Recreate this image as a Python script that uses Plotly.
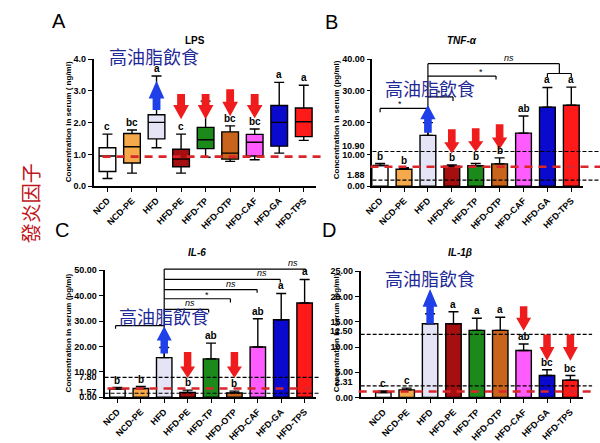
import plotly.graph_objects as go

W, H = 600, 443

cats = ["NCD", "NCD-PE", "HFD", "HFD-PE", "HFD-TP", "HFD-OTP", "HFD-CAF", "HFD-GA", "HFD-TPS"]
colors = ["#FFFFFF", "#F6A94A", "#E4E4F6", "#A50F0F", "#1B8A1B", "#C8641C", "#FF5CFF", "#0A0ACF", "#FF1A1A"]

# A: LPS (ng/ml) box statistics
lps_min = [0.24, 0.41, 1.21, 0.41, 0.91, 0.78, 0.83, 1.04, 1.44]
lps_q1 = [0.46, 0.73, 1.49, 0.61, 1.18, 0.85, 0.95, 1.26, 1.56]
lps_med = [0.95, 1.24, 2.01, 0.85, 1.46, 1.04, 1.38, 2.01, 2.03]
lps_q3 = [1.21, 1.66, 2.25, 1.16, 1.85, 1.71, 1.63, 2.54, 2.46]
lps_max = [1.64, 1.77, 3.47, 1.64, 2.68, 1.90, 1.80, 3.27, 3.18]
lps_letters = ["c", "bc", "a", "c", "", "bc", "bc", "a", "a"]

# B: TNF-alpha (pg/ml)
tnf_mean = [6.5, 5.3, 16.0, 6.3, 6.4, 7.0, 16.7, 24.9, 25.5]
tnf_err = [0.6, 0.5, 4.0, 0.4, 0.7, 1.9, 5.4, 6.2, 5.7]
tnf_letters = ["b", "b", "", "b", "b", "b", "ab", "a", "a"]

# C: IL-6 (pg/ml)
il6_mean = [3.2, 3.4, 15.6, 1.9, 15.1, 1.7, 19.8, 30.5, 37.1]
il6_err = [0.6, 0.8, 4.0, 0.9, 6.2, 0.7, 11.1, 10.4, 9.3]
il6_letters = ["b", "b", "", "b", "ab", "b", "ab", "a", "a"]

# D: IL-1beta (pg/ml)
il1_mean = [1.0, 1.5, 14.6, 14.6, 13.3, 13.3, 9.3, 4.35, 3.45]
il1_err = [0.3, 0.35, 2.0, 2.4, 2.4, 2.6, 1.3, 1.15, 0.9]
il1_letters = ["c", "c", "", "a", "a", "a", "ab", "bc", "bc"]

# reference lines
lps_red = 0.93
tnf_red, tnf_black = 6.1, [10.90, 1.88]
il6_red, il6_black = 3.4, [7.80, 1.57]
il1_red, il1_black = 1.2, [12.50, 2.31]

# ---------- layout helpers ----------
def px(x):
    return x / W

def py(y):
    return 1 - y / H

FONT = "Liberation Sans, Arial, sans-serif"
CJK = "Noto Sans CJK TC"

panels = {
    "A": dict(xa="x", ya="y", xd=(86, 311.7), yd=(187, 56), xr=(-0.56, 8.5), ymax=4,
              tv=[0, 1, 2, 3, 4], tt=["0.0", "1.0", "2.0", "3.0", "4.0"]),
    "B": dict(xa="x2", ya="y2", xd=(369, 583), yd=(187, 56), xr=(-0.32, 8.5), ymax=40,
              tv=[0, 10, 20, 30, 40], tt=["0.00", "10.00", "20.00", "30.00", "40.00"]),
    "C": dict(xa="x3", ya="y3", xd=(97, 312), yd=(405, 274), xr=(-0.55, 8.5), ymax=50,
              tv=[0, 10, 20, 30, 40, 50], tt=["0.00", "10.00", "20.00", "30.00", "40.00", "50.00"]),
    "D": dict(xa="x4", ya="y4", xd=(357, 583), yd=(405.3, 275), xr=(-0.97, 8.55), ymax=25,
              tv=[0, 5, 10, 15, 20, 25], tt=["0.00", "5.00", "10.00", "15.00", "20.00", "25.00"]),
}

fig = go.Figure()
idx = list(range(len(cats)))

# A boxes
pa = panels["A"]
for i in idx:
    fig.add_trace(go.Box(
        x=[i], q1=[lps_q1[i]], median=[lps_med[i]], q3=[lps_q3[i]],
        lowerfence=[lps_min[i]], upperfence=[lps_max[i]],
        width=0.68, whiskerwidth=0.6, fillcolor=colors[i],
        line=dict(color="black", width=1.4), boxpoints=False,
        xaxis=pa["xa"], yaxis=pa["ya"], showlegend=False, hoverinfo="skip"))

# bar panels
for key, mean, err in [("B", tnf_mean, tnf_err), ("C", il6_mean, il6_err), ("D", il1_mean, il1_err)]:
    p = panels[key]
    fig.add_trace(go.Bar(
        x=idx, y=mean, width=0.66, marker=dict(color=colors, line=dict(color="black", width=1.4)),
        error_y=dict(type="data", array=err, arrayminus=[0] * len(err), symmetric=False,
                     color="black", thickness=1.4, width=5),
        xaxis=p["xa"], yaxis=p["ya"], showlegend=False, hoverinfo="skip"))

layout = dict(width=W, height=H, margin=dict(l=0, r=0, t=0, b=0),
              paper_bgcolor="white", plot_bgcolor="white", boxmode="overlay",
              barmode="overlay", showlegend=False, font=dict(family=FONT, color="black"))

for key, p in panels.items():
    xn = "xaxis" + p["xa"][1:]
    yn = "yaxis" + p["ya"][1:]
    layout[xn] = dict(domain=[px(p["xd"][0]), px(p["xd"][1])], range=list(p["xr"]),
                      anchor=p["ya"], tickvals=idx, ticktext=cats, tickangle=-45,
                      showline=True, linecolor="black", linewidth=1.8, ticks="outside",
                      ticklen=4, tickwidth=1.4, tickcolor="black", showgrid=False, zeroline=False,
                      tickfont=dict(family=FONT, size=9, color="black", weight="bold"), fixedrange=True)
    layout[yn] = dict(domain=[py(p["yd"][0]), py(p["yd"][1])], range=[0, p["ymax"]],
                      anchor=p["xa"], tickvals=p["tv"], ticktext=p["tt"],
                      showline=True, linecolor="black", linewidth=1.8, ticks="outside",
                      ticklen=4, tickwidth=1.4, tickcolor="black", showgrid=False, zeroline=False,
                      tickfont=dict(family=FONT, size=9, color="black", weight="bold"), fixedrange=True)
fig.update_layout(**layout)

shapes = []
annos = []

# reference lines: (panel, value, x0px, x1px, kind)
ref_lines = [
    ("A", lps_red, 95, 320, "red"),
    ("B", tnf_red, 367, 600, "red"),
    ("B", tnf_black[0], 369, 600, "black"),
    ("B", tnf_black[1], 369, 600, "black"),
    ("C", il6_red, 100, 310, "red"),
    ("C", il6_black[0], 97, 315, "black"),
    ("C", il6_black[1], 97, 315, "black"),
    ("D", il1_red, 355, 595, "red"),
    ("D", il1_black[0], 357, 592, "black"),
    ("D", il1_black[1], 357, 592, "black"),
]
for key, v, x0, x1, kind in ref_lines:
    p = panels[key]
    if kind == "red":
        ln = dict(color="#D9262B", width=2.6, dash="8px,6px")
    else:
        ln = dict(color="black", width=1.1, dash="4px,2px")
    shapes.append(dict(type="line", xref="paper", yref=p["ya"], x0=px(x0), x1=px(x1), y0=v, y1=v,
                       line=ln, layer="above"))

# special tick labels
special = [("B", tnf_black[0], "10.90", 6), ("B", tnf_black[1], "1.88", 5),
           ("C", il6_black[0], "7.80", 0), ("C", il6_black[1], "1.57", 1),
           ("D", il1_black[0], "12.50", 3), ("D", il1_black[1], "2.31", 4)]
for key, v, txt, ys in special:
    p = panels[key]
    annos.append(dict(xref="paper", yref=p["ya"], x=px(p["xd"][0] - 6), y=v, text=txt,
                      xanchor="right", yanchor="middle", yshift=ys, showarrow=False,
                      font=dict(family=FONT, size=9, color="black", weight="bold")))

# significance letters
tops = {
    "A": lps_max,
    "B": [m + e for m, e in zip(tnf_mean, tnf_err)],
    "C": [m + e for m, e in zip(il6_mean, il6_err)],
    "D": [m + e for m, e in zip(il1_mean, il1_err)],
}
letters = {"A": lps_letters, "B": tnf_letters, "C": il6_letters, "D": il1_letters}
for key in panels:
    p = panels[key]
    for i in idx:
        if letters[key][i]:
            annos.append(dict(xref=p["xa"], yref=p["ya"], x=i, y=tops[key][i], text=letters[key][i],
                              xanchor="center", yanchor="bottom", yshift=0, showarrow=False,
                              font=dict(family=FONT, size=10, color="black", weight="bold")))

# comparison brackets (category index, value)
def seg(key, x0, v0, x1, v1):
    p = panels[key]
    shapes.append(dict(type="line", xref=p["xa"], yref=p["ya"] + " domain",
                       x0=x0, x1=x1, y0=v0 / p["ymax"], y1=v1 / p["ymax"],
                       line=dict(color="black", width=1.2), layer="above"))

def label(key, x, v, txt, italic=True, size=9):
    p = panels[key]
    annos.append(dict(xref=p["xa"], yref=p["ya"] + " domain", x=x, y=v / p["ymax"], text=txt,
                      xanchor="center", yanchor="bottom", showarrow=False, yshift=-1,
                      font=dict(family=FONT, size=size, color="black", style="italic" if italic else "normal")))

# B brackets
seg("B", 2, 38.6, 2, 16.0)
seg("B", 2, 38.6, 7.5, 38.6); seg("B", 7.5, 38.6, 7.5, 35.5)
seg("B", 7, 35.5, 8, 35.5); seg("B", 7, 35.5, 7, 34.4); seg("B", 8, 35.5, 8, 34.4)
label("B", 5.4, 38.6, "ns")
seg("B", 2, 34.7, 4.85, 34.7); seg("B", 4.85, 34.7, 4.85, 33.6)
label("B", 4.22, 34.2, "*", italic=False)
seg("B", 2, 28.1, 3.05, 28.1); seg("B", 3.05, 28.1, 3.05, 26.8)
label("B", 2.47, 27.6, "*", italic=False)
seg("B", 0, 24.5, 2, 24.5); seg("B", 0, 24.5, 0, 23.3)
label("B", 0.82, 24.0, "*", italic=False)

# C brackets
seg("C", 2, 50.5, 2, 15.6)
seg("C", 2, 50.5, 8.05, 50.5); seg("C", 8.05, 50.5, 8.05, 49.4)
label("C", 7.52, 50.5, "ns")
seg("C", 2, 46.4, 6.96, 46.4); seg("C", 6.96, 46.4, 6.96, 45.2)
label("C", 6.16, 46.4, "ns")
seg("C", 2, 42.4, 5.97, 42.4); seg("C", 5.97, 42.4, 5.97, 41.2)
label("C", 4.87, 42.4, "ns")
seg("C", 2, 38.8, 4.83, 38.8); seg("C", 4.83, 38.8, 4.83, 37.3)
label("C", 3.81, 38.0, "*", italic=False)
seg("C", 2, 34.6, 3.9, 34.6); seg("C", 3.9, 34.6, 3.9, 33.4)
label("C", 3.1, 34.6, "ns")
seg("C", -0.08, 28.2, 2, 28.2); seg("C", -0.08, 28.2, -0.08, 27.0)

# arrows: (panel, category index, tail, head base, tip, colour)
BLUE, RED = "#1F3FE8", "#EE1C1C"
arrows = [
    ("A", 2, 2.40, 2.76, 3.32, BLUE), ("A", 3, 2.90, 2.56, 2.11, RED), ("A", 4, 2.90, 2.56, 2.11, RED),
    ("A", 5, 3.05, 2.66, 2.20, RED), ("A", 6, 2.90, 2.56, 2.14, RED),
    ("B", 2, 16.8, 21.1, 25.6, BLUE), ("B", 3, 17.9, 13.8, 10.3, RED), ("B", 4, 18.2, 14.1, 10.8, RED),
    ("B", 5, 19.5, 15.3, 11.6, RED),
    ("C", 2, 17.2, 22.3, 28.0, BLUE), ("C", 3, 17.8, 12.1, 7.6, RED), ("C", 5, 17.8, 12.1, 7.6, RED),
    ("D", 2, 14.6, 18.0, 21.5, BLUE), ("D", 6, 18.1, 15.8, 13.2, RED), ("D", 7, 12.5, 10.0, 7.3, RED),
    ("D", 8, 12.5, 10.0, 7.3, RED),
]
for key, i, tail, base, tip, col in arrows:
    p = panels[key]
    hh, hs = 0.32, 0.16
    path = (f"M {i-hs},{tail} L {i+hs},{tail} L {i+hs},{base} L {i+hh},{base} L {i},{tip} "
            f"L {i-hh},{base} L {i-hs},{base} Z")
    shapes.append(dict(type="path", xref=p["xa"], yref=p["ya"], path=path,
                       fillcolor=col, line=dict(width=0), layer="above"))

# panel letters, titles, axis titles
for txt, x, y in [("A", 51, 17), ("B", 327, 18), ("C", 54, 232), ("D", 325, 232)]:
    annos.append(dict(xref="paper", yref="paper", x=px(x), y=py(y), text=txt, showarrow=False,
                      xanchor="center", yanchor="middle", font=dict(family=FONT, size=20, color="black")))
for txt, x, y, it in [("LPS", 189, 37, False), ("TNF-α", 460, 37, True),
                      ("IL-6", 191, 256, True), ("IL-1β", 458, 256, True)]:
    annos.append(dict(xref="paper", yref="paper", x=px(x), y=py(y), text=txt, showarrow=False,
                      xanchor="center", yanchor="middle",
                      font=dict(family=FONT, size=10, color="black", weight="bold",
                                style="italic" if it else "normal")))
for txt, x, y in [("Concentration in serum ( ng/ml)", 60, 121), ("Concentration in serum (pg/ml)", 332, 119),
                  ("Concentration in serum (pg/ml)", 60, 339), ("Concentration in serum (pg/ml)", 332, 339)]:
    annos.append(dict(xref="paper", yref="paper", x=px(x), y=py(y), text=txt, showarrow=False,
                      textangle=-90, xanchor="center", yanchor="middle",
                      font=dict(family=FONT, size=8, color="black", weight="bold")))

# Chinese overlay texts
for x, y in [(147, 53), (427, 86), (157, 321), (427, 282)]:
    annos.append(dict(xref="paper", yref="paper", x=px(x), y=py(y), text="高油脂飲食", showarrow=False,
                      xanchor="center", yanchor="middle", font=dict(family=CJK, size=18, color="#1E2896")))
annos.append(dict(xref="paper", yref="paper", x=px(22), y=py(205), text="發炎因子", showarrow=False,
                  textangle=-90, xanchor="center", yanchor="middle",
                  font=dict(family=CJK, size=20, color="#C0161C")))

fig.update_layout(shapes=shapes, annotations=annos)
fig.write_html("out.html")
